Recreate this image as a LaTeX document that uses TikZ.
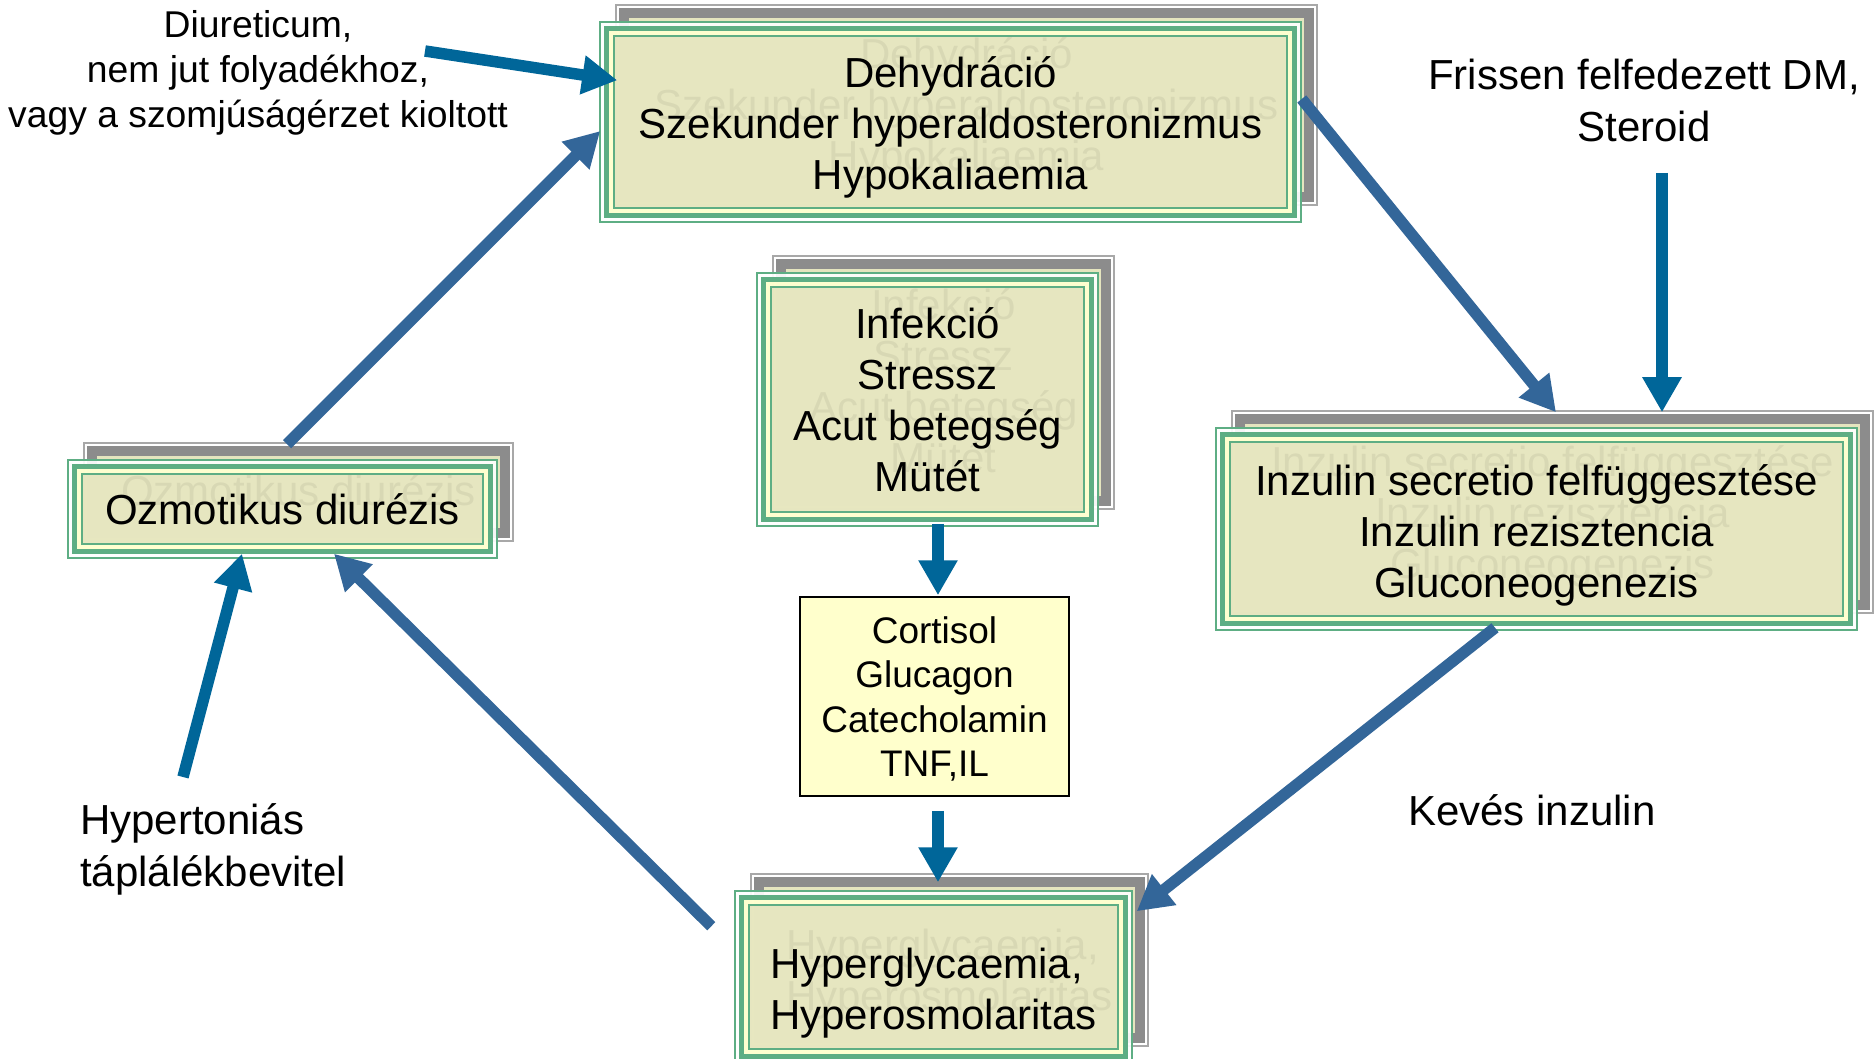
\documentclass[tikz,border=0pt]{standalone}
\usepackage{fontspec}
\setmainfont{Liberation Sans}
\usetikzlibrary{arrows.meta}
\definecolor{gline}{HTML}{5EAE84}
\definecolor{paley}{HTML}{FFFFCC}
\definecolor{beige}{HTML}{E5E5BF}
\definecolor{shdark}{HTML}{8C8C8C}
\definecolor{shlight}{HTML}{A8A8A8}
\definecolor{extblue}{HTML}{006699}
\definecolor{cycblue}{HTML}{336699}
\definecolor{cortfill}{HTML}{FFFFCC}

\newcommand\gbox[7]{%
  \draw[shlight, line width=1.5pt] ({#2+16},{#3-17}) rectangle ({#4+16},{#5-17});
  \fill[beige] ({#2+16+3},{#3-17+3}) rectangle ({#4+16-3},{#5-17-3});
  \draw[shdark, line width=10pt] ({#2+16+8},{#3-17+8}) rectangle ({#4+16-8},{#5-17-8});
  \fill[white, fill opacity=.92] (#2,#3) rectangle (#4,#5);
  \fill[paley, fill opacity=.92] ({#2+4},{#3+4}) rectangle ({#4-4},{#5-4});
  \fill[beige, fill opacity=.92] ({#2+14},{#3+14}) rectangle ({#4-14},{#5-14});
  \node[#6, text opacity=.06] at ({(#2+#4)/2+16},{(#3+#5)/2-19}) {#7};
  \draw[gline, line width=5pt] ({#2+6.5},{#3+6.5}) rectangle ({#4-6.5},{#5-6.5});
  \draw[gline, line width=2.5pt] ({#2+14},{#3+14}) rectangle ({#4-14},{#5-14});
  \node[#6, draw=gline, line width=1.5pt, minimum width={#4-#2}, minimum height={#5-#3}] (#1) at ({(#2+#4)/2},{(#3+#5)/2}) {#7};
}
% lower a centred block of lines by #1
\newcommand\lowc[2]{\raisebox{-#1}[\height][\depth]{\begin{tabular}{@{}c@{}}#2\end{tabular}}}
\newcommand\lowl[2]{\raisebox{-#1}[\height][\depth]{\begin{tabular}{@{}l@{}}#2\end{tabular}}}

\begin{document}
\begin{tikzpicture}[x=1pt,y=-1pt,
  boxtext/.style={inner sep=0pt, align=center, font=\fontsize{42}{51}\selectfont},
  cortbox/.style={draw=black, line width=1.5pt, fill=cortfill, inner sep=0pt, align=center, font=\fontsize{37}{44.5}\selectfont},
  freetext/.style={inner sep=0pt, align=center, font=\fontsize{42}{52}\selectfont},
  extarrow/.style={draw=extblue, line width=11.5pt, -{Triangle[length=35pt,width=37pt]}},
  cycarrow/.style={draw=cycblue, line width=11.5pt, -{Triangle[length=35pt,width=37pt]}}]
\useasboundingbox (0,0) rectangle (1875,1059);
\fill[white] (0,0) rectangle (1875,1059);
\clip (0,0) rectangle (1875,1059);

\gbox{dehyd}{600}{22}{1301}{222}{boxtext}{\lowc{6pt}{Dehydráció\\Szekunder hyperaldosteronizmus\\Hypokaliaemia}}
\gbox{infek}{757}{273}{1098}{526}{boxtext}{Infekció\\Stressz\\Acut betegség\\Mütét}
\gbox{ozmo}{68}{460}{497}{558}{boxtext}{Ozmotikus diurézis}
\gbox{inzul}{1216}{428}{1857}{630}{boxtext}{\lowc{7pt}{Inzulin secretio felfüggesztése\\Inzulin rezisztencia\\Gluconeogenezis}}
\gbox{hyper}{735}{891}{1132}{1063}{boxtext}{\lowl{17pt}{Hyperglycaemia,\\Hyperosmolaritas}}

\node[cortbox, minimum width=269, minimum height=199] (cort) at (934.5,696.5) {\lowc{4.5pt}{Cortisol\\Glucagon\\Catecholamin\\TNF,IL}};

\node[freetext, font=\fontsize{37.3}{45}\selectfont] (diur) at (258,73) {Diureticum,\\nem jut folyadékhoz,\\vagy a szomjúságérzet kioltott};
\node[freetext] (friss) at (1644,100) {Frissen felfedezett DM,\\Steroid};
\node[freetext] (keves) at (1532,810) {Kevés inzulin};
\node[freetext, align=left, anchor=west] (hypert) at (80,849) {Hypertoniás\\táplálékbevitel};

\coordinate (diurS) at (425,51);
\coordinate (frissS) at (1662,173);
\coordinate (hypertS) at (183,777);

\draw[extarrow] (diurS) -- ([shift={(18,59)}]dehyd.north west);
\draw[extarrow] (frissS) -- ([shift={(125.5,-15)}]inzul.north);
\draw[extarrow] (hypertS) -- ([shift={(-40.5,-5)}]ozmo.south);
\draw[extarrow] ([shift={(10.5,-3)}]infek.south) -- ([shift={(3.5,-1)}]cort.north);
\draw[extarrow] ([shift={(3.5,14)}]cort.south) -- ([shift={(4.5,-8)}]hyper.north);

\draw[cycarrow] ([shift={(4.5,-15)}]ozmo.north) -- ([shift={(1,9)}]dehyd.west);
\draw[cycarrow] ([shift={(0,-23)}]dehyd.east) -- ([shift={(19.5,-15)}]inzul.north);
\draw[cycarrow] ([shift={(-41.5,-3)}]inzul.south) -- ([shift={(4,21)}]hyper.north east);
\draw[cycarrow] ([shift={(-23,36)}]hyper.north west) -- ([shift={(51.5,-5)}]ozmo.south);
\end{tikzpicture}
\end{document}
